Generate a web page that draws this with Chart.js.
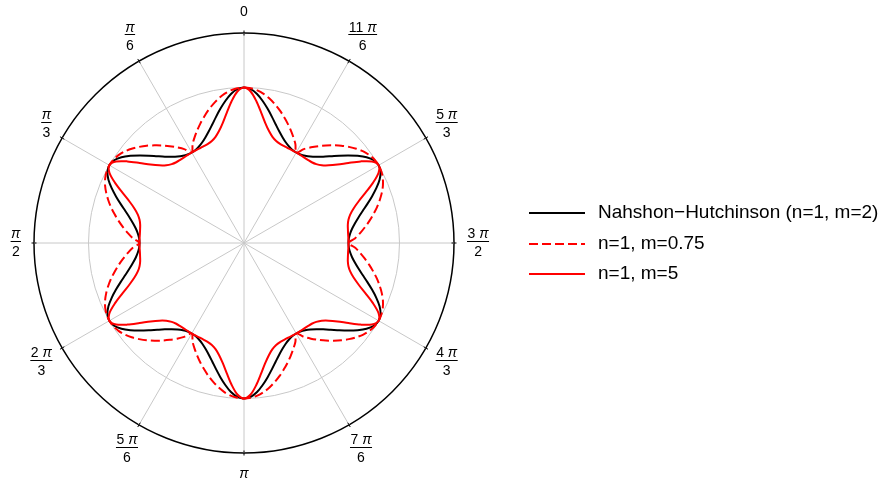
<!DOCTYPE html>
<html>
<head>
<meta charset="utf-8">
<script src="https://cdn.jsdelivr.net/npm/chart.js@4/dist/chart.umd.min.js"></script>
<style>
html,body{margin:0;padding:0;background:#fff;}
#wrap{width:887px;height:485px;position:relative;}
</style>
</head>
<body>
<div id="wrap"><canvas id="c" width="887" height="485"></canvas></div>
<script>
// ---------- data (polar angle θ in degrees, counter-clockwise from top; radius relative to grey circle) ----------
const angleDeg = Array.from({length: 144}, (_, i) => i * 2.5);

const seriesNames = ['Nahshon\u2212Hutchinson (n=1, m=2)', 'n=1, m=0.75', 'n=1, m=5'];

const nhValues = [
  1.000,0.990,0.962,0.921,0.876,0.831,0.789,0.753,0.724,0.701,0.685,0.675,0.672,0.675,0.685,0.701,0.724,0.753,0.789,0.831,0.876,0.921,0.962,0.990,
  1.000,0.990,0.962,0.921,0.876,0.831,0.789,0.753,0.724,0.701,0.685,0.675,0.672,0.675,0.685,0.701,0.724,0.753,0.789,0.831,0.876,0.921,0.962,0.990,
  1.000,0.990,0.962,0.921,0.876,0.831,0.789,0.753,0.724,0.701,0.685,0.675,0.672,0.675,0.685,0.701,0.724,0.753,0.789,0.831,0.876,0.921,0.962,0.990,
  1.000,0.990,0.962,0.921,0.876,0.831,0.789,0.753,0.724,0.701,0.685,0.675,0.672,0.675,0.685,0.701,0.724,0.753,0.789,0.831,0.876,0.921,0.962,0.990,
  1.000,0.990,0.962,0.921,0.876,0.831,0.789,0.753,0.724,0.701,0.685,0.675,0.672,0.675,0.685,0.701,0.724,0.753,0.789,0.831,0.876,0.921,0.962,0.990,
  1.000,0.990,0.962,0.921,0.876,0.831,0.789,0.753,0.724,0.701,0.685,0.675,0.672,0.675,0.685,0.701,0.724,0.753,0.789,0.831,0.876,0.921,0.962,0.990
];

const m075Values = [
  1.000,0.996,0.985,0.967,0.943,0.915,0.885,0.852,0.819,0.785,0.751,0.716,0.672,0.716,0.751,0.785,0.819,0.852,0.885,0.915,0.943,0.967,0.985,0.996,
  1.000,0.996,0.985,0.967,0.943,0.915,0.885,0.852,0.819,0.785,0.751,0.716,0.672,0.716,0.751,0.785,0.819,0.852,0.885,0.915,0.943,0.967,0.985,0.996,
  1.000,0.996,0.985,0.967,0.943,0.915,0.885,0.852,0.819,0.785,0.751,0.716,0.672,0.716,0.751,0.785,0.819,0.852,0.885,0.915,0.943,0.967,0.985,0.996,
  1.000,0.996,0.985,0.967,0.943,0.915,0.885,0.852,0.819,0.785,0.751,0.716,0.672,0.716,0.751,0.785,0.819,0.852,0.885,0.915,0.943,0.967,0.985,0.996,
  1.000,0.996,0.985,0.967,0.943,0.915,0.885,0.852,0.819,0.785,0.751,0.716,0.672,0.716,0.751,0.785,0.819,0.852,0.885,0.915,0.943,0.967,0.985,0.996,
  1.000,0.996,0.985,0.967,0.943,0.915,0.885,0.852,0.819,0.785,0.751,0.716,0.672,0.716,0.751,0.785,0.819,0.852,0.885,0.915,0.943,0.967,0.985,0.996
];

const m5Values = [
  1.000,0.975,0.915,0.846,0.785,0.739,0.707,0.688,0.678,0.674,0.672,0.672,0.672,0.672,0.672,0.674,0.678,0.688,0.707,0.739,0.785,0.846,0.915,0.975,
  1.000,0.975,0.915,0.846,0.785,0.739,0.707,0.688,0.678,0.674,0.672,0.672,0.672,0.672,0.672,0.674,0.678,0.688,0.707,0.739,0.785,0.846,0.915,0.975,
  1.000,0.975,0.915,0.846,0.785,0.739,0.707,0.688,0.678,0.674,0.672,0.672,0.672,0.672,0.672,0.674,0.678,0.688,0.707,0.739,0.785,0.846,0.915,0.975,
  1.000,0.975,0.915,0.846,0.785,0.739,0.707,0.688,0.678,0.674,0.672,0.672,0.672,0.672,0.672,0.674,0.678,0.688,0.707,0.739,0.785,0.846,0.915,0.975,
  1.000,0.975,0.915,0.846,0.785,0.739,0.707,0.688,0.678,0.674,0.672,0.672,0.672,0.672,0.672,0.674,0.678,0.688,0.707,0.739,0.785,0.846,0.915,0.975,
  1.000,0.975,0.915,0.846,0.785,0.739,0.707,0.688,0.678,0.674,0.672,0.672,0.672,0.672,0.672,0.674,0.678,0.688,0.707,0.739,0.785,0.846,0.915,0.975
];

const tickAngles = [0, 30, 60, 90, 120, 150, 180, 210, 240, 270, 300, 330];
const tickLabels = ['0', '\u03c0/6', '\u03c0/3', '\u03c0/2', '2\u03c0/3', '5\u03c0/6', '\u03c0', '7\u03c0/6', '4\u03c0/3', '3\u03c0/2', '5\u03c0/3', '11\u03c0/6'];
const radiusMax = 1.3505;
const radiusTicks = [0, 1, radiusMax];

// ---------- helpers ----------
const N = angleDeg.length;
// Chart.js radar runs clockwise; θ runs counter-clockwise, so reorder.
const toRadar = arr => arr.map((_, j) => arr[(N - j) % N]);
const radarLabels = toRadar(angleDeg);
const majorSet = new Set(tickAngles);
const FONT = "'Liberation Sans', Arial, Helvetica, sans-serif";
const GREY = '#c8c8c8';

function splitNum(str) {
  const i = str.indexOf('\u03c0');
  if (i < 0) return {coef: str, pi: false};
  return {coef: str.slice(0, i), pi: true};
}
function numWidth(ctx, str, size) {
  const p = splitNum(str);
  ctx.font = size + 'px ' + FONT;
  let w = ctx.measureText(p.coef).width;
  if (p.pi) {
    if (p.coef) w += ctx.measureText(' ').width;
    ctx.font = 'italic ' + size + 'px ' + FONT;
    w += ctx.measureText('\u03c0').width;
  }
  return w;
}
function drawNum(ctx, str, xc, y, size) {
  const p = splitNum(str);
  const w = numWidth(ctx, str, size);
  let x = xc - w / 2;
  ctx.textAlign = 'left';
  ctx.textBaseline = 'middle';
  ctx.font = size + 'px ' + FONT;
  if (p.coef) {
    ctx.fillText(p.coef, x, y);
    x += ctx.measureText(p.coef).width;
    if (p.pi) x += ctx.measureText(' ').width;
  }
  if (p.pi) {
    ctx.font = 'italic ' + size + 'px ' + FONT;
    ctx.fillText('\u03c0', x, y);
  }
}

const decor = {
  id: 'decor',
  afterDraw(chart) {
    const s = chart.scales.r;
    const ctx = chart.ctx;
    const cx = s.xCenter, cy = s.yCenter, R = s.drawingArea;
    const size = 14;
    const r0 = R + 13;
    ctx.save();
    ctx.fillStyle = '#000';
    tickAngles.forEach((t, k) => {
      const j = radarLabels.indexOf(t);
      const p = s.getPointPosition(j, 1);
      const ux = p.x - cx, uy = p.y - cy;
      // tick mark across outer circle
      ctx.strokeStyle = '#000';
      ctx.lineWidth = 1;
      ctx.beginPath();
      ctx.moveTo(cx + ux * (R - 2.5), cy + uy * (R - 2.5));
      ctx.lineTo(cx + ux * (R + 2.5), cy + uy * (R + 2.5));
      ctx.stroke();
      // label
      const lab = tickLabels[k];
      const parts = lab.split('/');
      if (parts.length === 2) {
        const wn = numWidth(ctx, parts[0], size);
        const wd = numWidth(ctx, parts[1], size);
        const w = Math.max(wn, wd) + 1;
        const h = 30;
        const lx = cx + ux * (r0 + w / 2), ly = cy + uy * (r0 + h / 2);
        drawNum(ctx, parts[0], lx, ly - 9.2, size);
        drawNum(ctx, parts[1], lx, ly + 9.2, size);
        ctx.lineWidth = 1;
        ctx.beginPath();
        ctx.moveTo(lx - w / 2, Math.round(ly - 2.5) + 0.5);
        ctx.lineTo(lx + w / 2, Math.round(ly - 2.5) + 0.5);
        ctx.stroke();
      } else {
        const w = numWidth(ctx, lab, size);
        const h = 16;
        drawNum(ctx, lab, cx + ux * (r0 + w / 2), cy + uy * (r0 + h / 2), size);
      }
    });
    // legend
    const legendY = [213, 244, 274];
    chart.data.datasets.forEach((ds, i) => {
      const y = legendY[i];
      ctx.strokeStyle = ds.borderColor;
      ctx.lineWidth = 2;
      ctx.setLineDash(ds.borderDash || []);
      ctx.beginPath();
      ctx.moveTo(529, y);
      ctx.lineTo(585, y);
      ctx.stroke();
      ctx.setLineDash([]);
      ctx.fillStyle = '#000';
      ctx.font = '19px ' + FONT;
      ctx.textAlign = 'left';
      ctx.textBaseline = 'middle';
      ctx.fillText(ds.label, 598, y);
    });
    ctx.restore();
  }
};

new Chart(document.getElementById('c'), {
  type: 'radar',
  data: {
    labels: radarLabels,
    datasets: [
      {label: seriesNames[0], data: toRadar(nhValues), borderColor: '#000000', borderWidth: 2, fill: false, order: 2},
      {label: seriesNames[1], data: toRadar(m075Values), borderColor: '#ff0000', borderDash: [9, 4], borderWidth: 2, fill: false, order: 1},
      {label: seriesNames[2], data: toRadar(m5Values), borderColor: '#ff0000', borderWidth: 2, fill: false, order: 0}
    ]
  },
  options: {
    responsive: false,
    animation: false,
    events: [],
    layout: {padding: {left: 34, top: 33, right: 433, bottom: 32}},
    elements: {
      point: {radius: 0, hoverRadius: 0},
      line: {tension: 0.3}
    },
    plugins: {legend: {display: false}, tooltip: {enabled: false}},
    scales: {
      r: {
        min: 0,
        max: radiusMax,
        startAngle: 0,
        ticks: {display: false},
        pointLabels: {display: false},
        afterBuildTicks: sc => { sc.ticks = radiusTicks.map(v => ({value: v})); },
        grid: {
          circular: true,
          color: c => (c.tick && c.tick.value >= radiusMax - 1e-6) ? '#000000' : GREY,
          lineWidth: c => (c.tick && c.tick.value >= radiusMax - 1e-6) ? 1.5 : 1
        },
        angleLines: {
          display: true,
          color: c => majorSet.has(radarLabels[c.index]) ? GREY : 'rgba(0,0,0,0)',
          lineWidth: c => majorSet.has(radarLabels[c.index]) ? 1 : 0
        }
      }
    }
  },
  plugins: [decor]
});
</script>
</body>
</html>
